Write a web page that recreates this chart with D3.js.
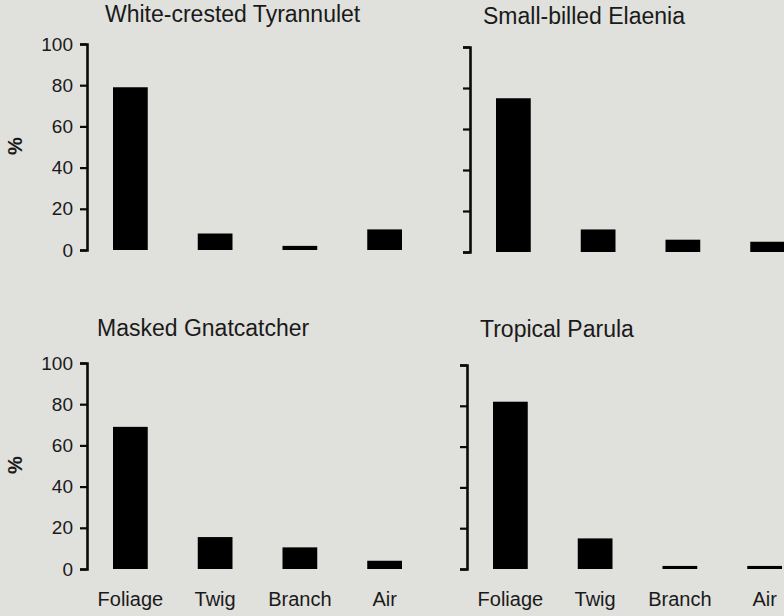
<!DOCTYPE html>
<html>
<head>
<meta charset="utf-8">
<script src="https://cdn.jsdelivr.net/npm/d3@7"></script>
<style>
  body { margin: 0; background: #e0e0dc; }
  svg { display: block; }
  text { font-family: "Liberation Sans", Arial, sans-serif; fill: #1a1a1a; }
</style>
</head>
<body>
<script>
// data
var categories = ["Foliage", "Twig", "Branch", "Air"];
var species = ["White-crested Tyrannulet", "Small-billed Elaenia", "Masked Gnatcatcher", "Tropical Parula"];
var tyrannulet = [79, 8, 2, 10];
var elaenia = [75, 11, 6, 5];
var gnatcatcher = [69, 15.5, 10.5, 4];
var parula = [82, 15, 1.5, 1.5];
var yTicks = [0, 20, 40, 60, 80, 100];

var series = [tyrannulet, elaenia, gnatcatcher, parula];

// panel layout: axis x, zero line, top of axis, title offset/baseline
var panels = [
  { ax: 87,  y0: 250, y1: 44,  tx: 18, ty: 22,  labels: true,  cats: false },
  { ax: 470, y0: 252, y1: 47,  tx: 13, ty: 24,  labels: false, cats: false },
  { ax: 87,  y0: 569, y1: 363, tx: 10, ty: 336, labels: true,  cats: true },
  { ax: 467, y0: 569, y1: 365, tx: 13, ty: 337, labels: false, cats: true }
];

var svg = d3.select("body").append("svg")
  .attr("width", 784)
  .attr("height", 616);

svg.append("rect").attr("width", 784).attr("height", 616).attr("fill", "#e0e0dc");

panels.forEach(function(p, i) {
  var g = svg.append("g");

  var y = d3.scaleLinear().domain([0, 100]).range([p.y0, p.y1]);
  var x = d3.scaleBand()
    .domain(categories)
    .range([p.ax + 26, p.ax + 315])
    .paddingInner(0.59)
    .paddingOuter(0);

  g.selectAll("rect.bar")
    .data(categories)
    .enter().append("rect")
    .attr("class", "bar")
    .attr("x", function(d) { return x(d); })
    .attr("width", x.bandwidth())
    .attr("y", function(d, j) { return y(series[i][j]); })
    .attr("height", function(d, j) { return y(0) - y(series[i][j]); })
    .attr("fill", "#000");

  var axis = d3.axisLeft(y)
    .tickValues(yTicks)
    .tickSize(7)
    .tickSizeOuter(7)
    .tickPadding(7)
    .tickFormat(p.labels ? d3.format("d") : "");

  var ag = g.append("g")
    .attr("transform", "translate(" + p.ax + ",0)")
    .call(axis);
  ag.select(".domain").attr("stroke", "#0a0a0a").attr("stroke-width", 2.6);
  ag.selectAll(".tick line").attr("stroke", "#0a0a0a").attr("stroke-width", 2.2);
  ag.selectAll(".tick text")
    .style("font-family", "'Liberation Sans', Arial, sans-serif")
    .style("font-size", "19px")
    .attr("fill", "#1a1a1a");

  g.append("text")
    .attr("x", p.ax + p.tx)
    .attr("y", p.ty)
    .style("font-size", "23px")
    .attr("fill", "#222")
    .text(species[i]);

  if (p.labels) {
    g.append("text")
      .attr("transform", "translate(" + 22 + "," + ((p.y0 + p.y1) / 2 - 1) + ") rotate(-90)")
      .attr("text-anchor", "middle")
      .style("font-size", "20px")
      .style("font-weight", "bold")
      .text("%");
  }

  if (p.cats) {
    g.selectAll("text.cat")
      .data(categories)
      .enter().append("text")
      .attr("class", "cat")
      .attr("x", function(d) { return x(d) + x.bandwidth() / 2; })
      .attr("y", 606)
      .attr("text-anchor", "middle")
      .style("font-size", "20px")
      .text(function(d) { return d; });
  }
});
</script>
</body>
</html>
